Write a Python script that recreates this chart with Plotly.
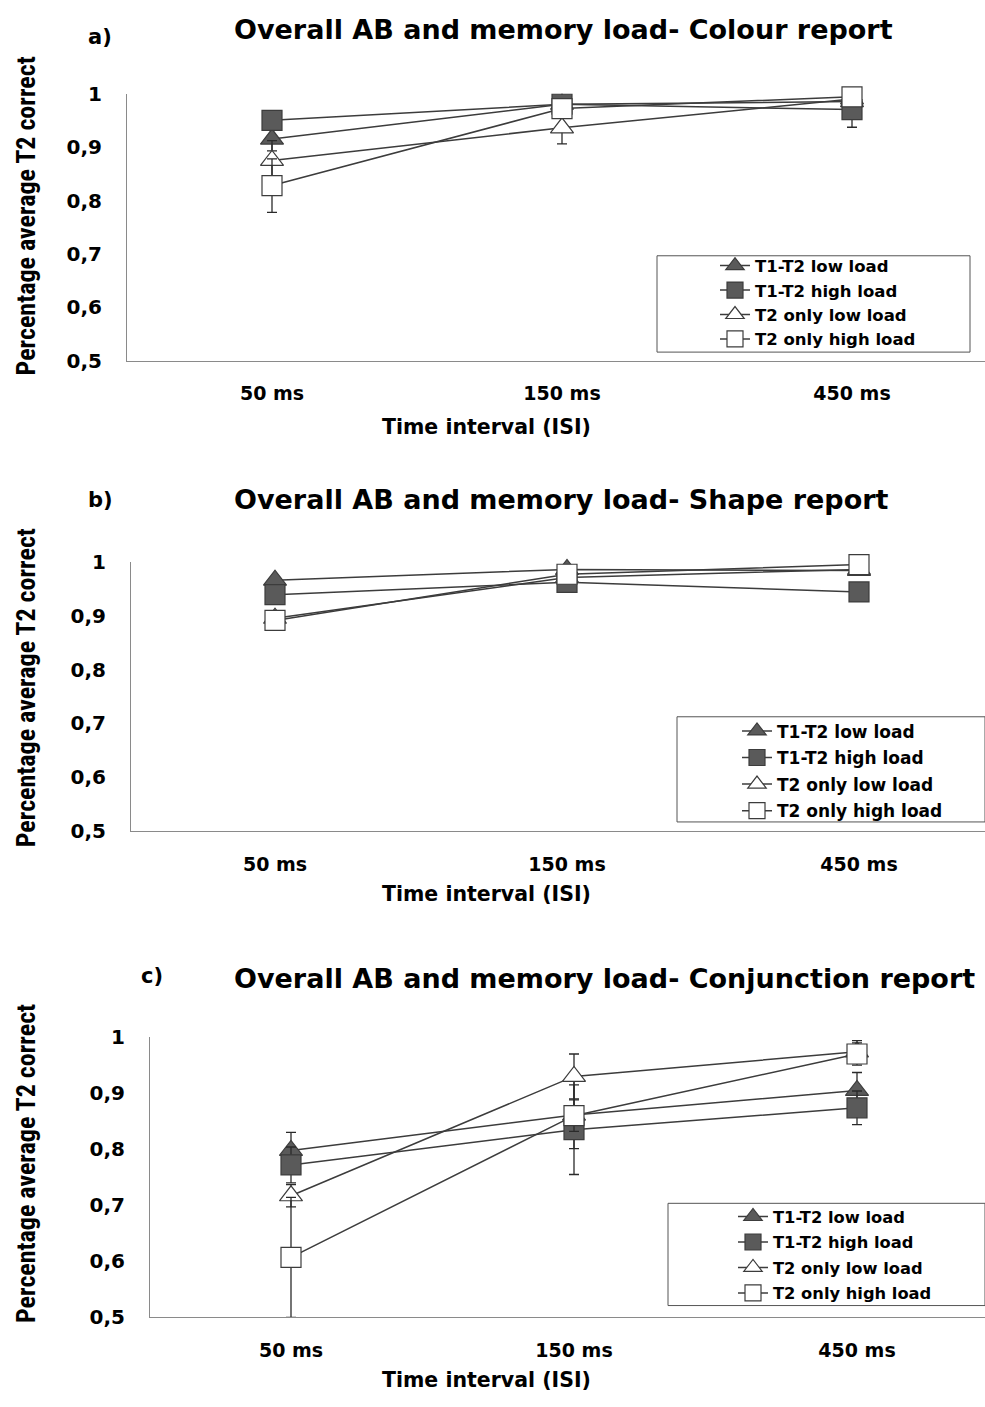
import plotly.graph_objects as go

categories = ["50 ms", "150 ms", "450 ms"]
series_names = ["T1-T2 low load", "T1-T2 high load", "T2 only low load", "T2 only high load"]

# Panel a - Colour report
a_low = [0.915, 0.98, 0.985]
a_high = [0.95, 0.98, 0.97]
a_t2low = [0.875, 0.936, 0.99]
a_t2high = [0.828, 0.972, 0.994]
a_low_err = [0.022, 0.01, 0.01]
a_high_err = [0.01, 0.01, 0.033]
a_t2low_err = [0.037, 0.03, 0.01]
a_t2high_err = [0.05, 0.01, 0.01]

# Panel b - Shape report
b_low = [0.967, 0.987, 0.985]
b_high = [0.94, 0.963, 0.945]
b_t2low = [0.896, 0.972, 0.987]
b_t2high = [0.892, 0.978, 0.996]
b_low_err = [0.005, 0.005, 0.005]
b_high_err = [0.005, 0.005, 0.005]
b_t2low_err = [0.005, 0.005, 0.005]
b_t2high_err = [0.005, 0.005, 0.005]

# Panel c - Conjunction report
c_low = [0.798, 0.861, 0.905]
c_high = [0.772, 0.835, 0.874]
c_t2low = [0.717, 0.93, 0.974]
c_t2high = [0.607, 0.86, 0.97]
c_low_err = [0.032, 0.06, 0.032]
c_high_err = [0.032, 0.08, 0.03]
c_t2low_err = [0.02, 0.04, 0.02]
c_t2high_err = [0.107, 0.028, 0.02]

y_tickvals = [0.5, 0.6, 0.7, 0.8, 0.9, 1.0]
y_ticktext = ["0,5", "0,6", "0,7", "0,8", "0,9", "1"]

titles = ["Overall AB and memory load- Colour report",
          "Overall AB and memory load- Shape report",
          "Overall AB and memory load- Conjunction report"]
panel_labels = ["a)", "b)", "c)"]

W, H = 985, 1407
WIDE = "DejaVu Sans, Verdana, sans-serif"
NARROW = "Liberation Sans Narrow, Roboto Condensed, Roboto, sans-serif"
LINE = "#3c3c3c"
FILL = "#5a5a5a"

styles = [
    dict(symbol="triangle-up", color=FILL, size=20),
    dict(symbol="square", color=FILL, size=20),
    dict(symbol="triangle-up", color="white", size=20),
    dict(symbol="square", color="white", size=20),
]

panels = [
    ([a_low, a_high, a_t2low, a_t2high], [a_low_err, a_high_err, a_t2low_err, a_t2high_err]),
    ([b_low, b_high, b_t2low, b_t2high], [b_low_err, b_high_err, b_t2low_err, b_t2high_err]),
    ([c_low, c_high, c_t2low, c_t2high], [c_low_err, c_high_err, c_t2low_err, c_t2high_err]),
]

# (axis left px, first category px, category spacing px, top px (value 1), bottom px (value 0.5))
geom = [
    (127, 272, 290, 83, 355),
    (131, 275, 292, 560, 833),
    (150, 291, 283, 1043, 1328),
]
legend_boxes = [(657, 248, 970, 346), (677, 717, 985, 824), (668, 1212, 985, 1316)]
legend_x = [715, 737, 733]
legend_tops = [240.5, 713.5, 1208]
legend_fonts = [16.5, 17, 16.3]
legend_gaps = [0, 1.5, 1.3]
title_y = [18, 496, 983]
label_xy = [(100, 25), (100, 496), (152, 981)]
ytitle_y = [208, 688, 1172]
xtitle_y = [422, 897, 1392]

fig = go.Figure()
x_idx = list(range(len(categories)))

for p, (vals, errs) in enumerate(panels):
    xa = "x" if p == 0 else f"x{p+1}"
    ya = "y" if p == 0 else f"y{p+1}"
    lg = "legend" if p == 0 else f"legend{p+1}"
    for s in range(4):
        st = styles[s]
        fig.add_trace(go.Scatter(
            x=x_idx, y=vals[s], mode="lines+markers", name=series_names[s],
            xaxis=xa, yaxis=ya, legend=lg, legendgroup=f"p{p}s{s}", cliponaxis=False,
            line=dict(color=LINE, width=1.5),
            marker=dict(symbol=st["symbol"], size=st["size"], color=st["color"],
                        line=dict(color=LINE, width=1.2)),
            error_y=dict(type="data", array=errs[s], visible=True, color="#2a2a2a",
                         thickness=1.3, width=5),
        ))

layout = dict(
    width=W, height=H, margin=dict(l=0, r=0, t=0, b=0),
    paper_bgcolor="white", plot_bgcolor="white", showlegend=True,
    font=dict(family=WIDE, color="black"),
)
annotations = []
shapes = []
for p in range(3):
    axl, c0, sp, yt, yb = geom[p]
    xr = [(axl - c0) / sp, (W - c0) / sp]
    xkey = "xaxis" if p == 0 else f"xaxis{p+1}"
    ykey = "yaxis" if p == 0 else f"yaxis{p+1}"
    ya_ref = "y" if p == 0 else f"y{p+1}"
    layout[xkey] = dict(
        domain=[axl / W, 1], range=xr, tickvals=x_idx, ticktext=categories,
        showgrid=False, zeroline=False, showline=True, linecolor="#8a8a8a", linewidth=1,
        ticks="", anchor=ya_ref, ticklabelstandoff=15 if p == 0 else 16,
        tickfont=dict(family=WIDE, size=19, color="black", weight="bold"),
    )
    layout[ykey] = dict(
        domain=[1 - yb / H, 1 - yt / H], range=[0.5, 1.0], tickvals=y_tickvals,
        ticktext=y_ticktext, showgrid=False, zeroline=False, showline=True,
        linecolor="#8a8a8a", linewidth=1, ticks="", anchor="x" if p == 0 else f"x{p+1}",
        ticklabelstandoff=20,
        tickfont=dict(family=WIDE, size=20, color="black", weight="bold"),
    )
    bx0, by0, bx1, by1 = legend_boxes[p]
    shapes.append(dict(type="rect", xref="paper", yref="paper",
                       x0=bx0 / W, x1=bx1 / W, y0=1 - by1 / H, y1=1 - by0 / H,
                       line=dict(color="#555555", width=1), fillcolor="white", layer="below"))
    lkey = "legend" if p == 0 else f"legend{p+1}"
    layout[lkey] = dict(
        x=legend_x[p] / W, y=1 - legend_tops[p] / H, xanchor="left", yanchor="top",
        bgcolor="rgba(0,0,0,0)", borderwidth=0, tracegroupgap=legend_gaps[p],
        font=dict(family=WIDE, size=legend_fonts[p], color="black", weight="bold"),
        itemwidth=30,
    )
    annotations.append(dict(text=titles[p], x=232 / W, y=1 - title_y[p] / H, xref="paper", yref="paper",
                            showarrow=False, xanchor="left", yanchor="middle",
                            font=dict(family=WIDE, size=27, color="black", weight="bold")))
    lx, ly = label_xy[p]
    annotations.append(dict(text=panel_labels[p], x=lx / W, y=1 - ly / H, xref="paper", yref="paper",
                            showarrow=False, xanchor="center", yanchor="middle",
                            font=dict(family=WIDE, size=21, color="black", weight="bold")))
    annotations.append(dict(text="Percentage average T2 correct", x=26 / W, y=1 - ytitle_y[p] / H,
                            xref="paper", yref="paper", showarrow=False, textangle=-90,
                            xanchor="center", yanchor="middle",
                            font=dict(family=NARROW, size=26, color="black", weight="bold")))
    annotations.append(dict(text="Time interval (ISI)", x=486 / W, y=1 - xtitle_y[p] / H,
                            xref="paper", yref="paper", showarrow=False,
                            xanchor="center", yanchor="middle",
                            font=dict(family=WIDE, size=20.5, color="black", weight="bold")))

layout["annotations"] = annotations
layout["shapes"] = shapes
fig.update_layout(**layout)
fig.write_html("out.html")
